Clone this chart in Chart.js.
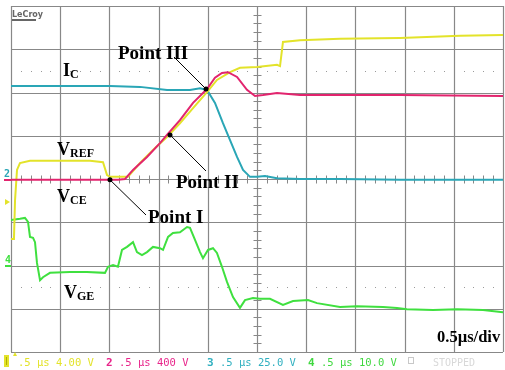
<!DOCTYPE html>
<html><head><meta charset="utf-8">
<script src="https://cdn.jsdelivr.net/npm/chart.js@4"></script>
<style>html,body{margin:0;padding:0;background:#fff;}canvas{display:block;}</style>
</head><body>
<canvas id="c" width="505" height="370"></canvas>
<script>
// time in µs (0.5 µs/div), values in screen divisions (0 = bottom, 8 = top)
const vrefTime = [0, 0.030, 0.041, 0.061, 0.091, 0.193, 0.498, 0.803, 0.935, 0.976, 1.006, 1.189, 1.311, 1.443, 1.585, 1.717, 1.850, 1.992, 2.093, 2.226, 2.327, 2.5, 2.703, 2.734, 2.764, 2.937, 3.343, 3.953, 4.563, 5.0];
const vrefDiv  = [2.61, 2.61, 3.51, 4.21, 4.37, 4.42, 4.42, 4.42, 4.39, 4.09, 4.05, 4.05, 4.37, 4.67, 4.97, 5.29, 5.64, 6.01, 6.29, 6.47, 6.57, 6.59, 6.64, 6.61, 7.17, 7.21, 7.24, 7.26, 7.31, 7.33];

const vceTime = [0, 0.498, 1.087, 1.159, 1.240, 1.382, 1.514, 1.585, 1.717, 1.850, 1.992, 2.073, 2.144, 2.205, 2.297, 2.398, 2.480, 2.561, 2.703, 2.937, 3.953, 5.0];
const vceDiv  = [3.98, 3.98, 3.98, 4.00, 4.21, 4.51, 4.83, 5.02, 5.36, 5.76, 6.08, 6.34, 6.45, 6.47, 6.36, 6.06, 5.92, 5.94, 5.99, 5.94, 5.94, 5.92];

const icTime = [0, 0.498, 1.006, 1.311, 1.585, 1.819, 1.921, 1.992, 2.073, 2.154, 2.226, 2.297, 2.358, 2.429, 2.5, 2.581, 2.703, 2.937, 3.343, 3.953, 5.0];
const icDiv  = [6.15, 6.15, 6.15, 6.13, 6.06, 6.06, 6.10, 6.06, 5.76, 5.29, 4.90, 4.51, 4.21, 4.05, 4.05, 4.07, 4.02, 4.00, 4.00, 3.98, 3.98];

const vgeTime = [0, 0.091, 0.142, 0.173, 0.193, 0.224, 0.244, 0.264, 0.295, 0.325, 0.396, 0.600, 0.772, 0.955, 0.986, 1.037, 1.087, 1.128, 1.179, 1.240, 1.280, 1.331, 1.382, 1.443, 1.514, 1.545, 1.596, 1.646, 1.717, 1.789, 1.819, 1.870, 1.921, 1.951, 2.002, 2.053, 2.093, 2.144, 2.195, 2.256, 2.327, 2.378, 2.459, 2.530, 2.632, 2.764, 2.866, 3.018, 3.110, 3.343, 3.516, 3.780, 3.923, 4.024, 4.289, 4.533, 4.797, 5.0];
const vgeDiv  = [3.05, 3.08, 3.10, 3.01, 2.66, 2.64, 2.54, 2.06, 1.66, 1.73, 1.83, 1.85, 1.85, 1.83, 1.97, 2.01, 1.97, 2.36, 2.43, 2.54, 2.31, 2.24, 2.31, 2.43, 2.40, 2.36, 2.66, 2.75, 2.77, 2.89, 2.87, 2.59, 2.31, 2.17, 2.36, 2.40, 2.29, 1.97, 1.62, 1.27, 1.02, 1.20, 1.25, 1.23, 1.23, 1.09, 1.18, 1.20, 1.13, 1.04, 1.06, 1.04, 1.02, 0.99, 0.97, 0.99, 0.97, 0.92];

const pointNames = ['Point I', 'Point II', 'Point III'];
const pointTime  = [1.006, 1.616, 1.982];
const pointDiv   = [3.98, 5.02, 6.08];

const channelNumbers = ['1', '2', '3', '4'];
const channelSettings = ['.5 µs 4.00 V', '.5 µs 400 V', '.5 µs 25.0 V', '.5 µs 10.0 V'];
const timeBase = '0.5µs/div';

const toXY = (t, v) => t.map((x, i) => ({x: x, y: v[i]}));

const COLORS = {yellow:'#e3e32a', magenta:'#e2246e', cyan:'#2aa6b6', green:'#3fe03f'};

const gridPlugin = {
  id: 'scopeGrid',
  beforeDatasetsDraw(chart) {
    const {ctx, scales: {x, y}} = chart;
    const x0 = x.getPixelForValue(0), x1 = x.getPixelForValue(5);
    const y0 = y.getPixelForValue(8), y1 = y.getPixelForValue(0);
    ctx.save();
    ctx.strokeStyle = '#888888'; ctx.lineWidth = 1.2;
    ctx.beginPath();
    for (let i = 0; i <= 10; i++) { const px = Math.round(x.getPixelForValue(i * 0.5)) + 0.5; ctx.moveTo(px, y0); ctx.lineTo(px, y1); }
    for (let j = 0; j <= 8; j++) { const py = Math.round(y.getPixelForValue(j)) + 0.5; ctx.moveTo(x0, py); ctx.lineTo(x1, py); }
    ctx.stroke();
    ctx.lineWidth = 1;
    const cx = Math.round(x.getPixelForValue(2.5)) + 0.5, cy = Math.round(y.getPixelForValue(4)) + 0.5;
    ctx.beginPath();
    for (let k = 1; k < 40; k++) { if (k % 5 === 0) continue; const py = Math.round(y.getPixelForValue(k * 0.2)) + 0.5; ctx.moveTo(cx - 4, py); ctx.lineTo(cx + 4, py); }
    for (let k = 1; k < 50; k++) { if (k % 5 === 0) continue; const px = Math.round(x.getPixelForValue(k * 0.1)) + 0.5; ctx.moveTo(px, cy - 4); ctx.lineTo(px, cy + 4); }
    ctx.stroke();
    ctx.fillStyle = '#9a9a9a';
    [1.5, 6.5].forEach(v => {
      const py = Math.round(y.getPixelForValue(v));
      for (let k = 1; k < 50; k++) { if (k % 5 === 0) continue; const px = Math.round(x.getPixelForValue(k * 0.1)); ctx.fillRect(px, py, 1, 1); }
    });
    // LeCroy logo
    ctx.fillStyle = '#666'; ctx.font = 'bold 8px "DejaVu Sans"'; ctx.textBaseline = 'alphabetic';
    ctx.fillText('LeCroy', 12, 17);
    ctx.fillRect(12, 19, 24, 2);
    ctx.restore();
  },
  afterDatasetsDraw(chart) {
    const {ctx, scales: {x, y}} = chart;
    ctx.save();
    // channel markers at left
    ctx.font = 'bold 10px "DejaVu Sans Mono"';
    ctx.fillStyle = COLORS.cyan; ctx.fillText('2', 4, 177);
    ctx.fillStyle = COLORS.magenta; ctx.fillRect(4, 179, 7, 2);
    ctx.fillStyle = COLORS.yellow;
    ctx.beginPath(); ctx.moveTo(5, 199); ctx.lineTo(10, 202); ctx.lineTo(5, 205); ctx.closePath(); ctx.fill();
    ctx.fillStyle = COLORS.green; ctx.fillText('4', 5, 263); ctx.fillRect(5, 265, 6, 2);

    // leader lines and dots
    const ends = [[146, 215], [206, 171], [174, 57]];
    ctx.strokeStyle = '#000'; ctx.fillStyle = '#000'; ctx.lineWidth = 1;
    pointNames.forEach((n, i) => {
      const px = x.getPixelForValue(pointTime[i]), py = y.getPixelForValue(pointDiv[i]);
      ctx.beginPath(); ctx.moveTo(px, py); ctx.lineTo(ends[i][0], ends[i][1]); ctx.stroke();
      ctx.beginPath(); ctx.arc(px, py, 2.5, 0, Math.PI * 2); ctx.fill();
    });
    ctx.textBaseline = 'alphabetic';
    ctx.font = 'bold 19px "Liberation Serif"';
    ctx.fillText(pointNames[0], 148, 223);
    ctx.fillText(pointNames[1], 176, 188);
    ctx.fillText(pointNames[2], 118, 59);

    const sub = (main, s, xx, yy) => {
      ctx.font = 'bold 18px "Liberation Serif"'; ctx.fillText(main, xx, yy);
      const w = ctx.measureText(main).width;
      ctx.font = 'bold 12px "Liberation Serif"'; ctx.fillText(s, xx + w, yy + 2);
    };
    sub('I', 'C', 63, 76);
    sub('V', 'REF', 57, 155);
    sub('V', 'CE', 57, 202);
    sub('V', 'GE', 64, 298);
    ctx.font = 'bold 16.5px "Liberation Serif"';
    ctx.fillText(timeBase, 437, 342);

    // bottom channel strip
    const cols = [COLORS.yellow, '#e8248a', '#30b0c0', '#40d840'];
    const numX = [4, 106, 207, 308], setX = [18, 119, 220, 321];
    for (let i = 0; i < 4; i++) {
      ctx.fillStyle = cols[i];
      ctx.font = 'bold 11px "DejaVu Sans Mono"';
      if (i === 0) {
        ctx.fillRect(4, 355, 5, 12);
        ctx.fillStyle = '#b0b000'; ctx.fillRect(6, 357, 1, 8);
        ctx.fillStyle = cols[i];
        ctx.beginPath(); ctx.moveTo(13, 356); ctx.lineTo(15, 352); ctx.lineTo(17, 356); ctx.closePath(); ctx.fill();
      } else {
        ctx.fillText(channelNumbers[i], numX[i], 366);
      }
      ctx.font = '10.5px "DejaVu Sans Mono"';
      ctx.fillText(channelSettings[i], setX[i], 366);
    }
    ctx.strokeStyle = '#c8c8c8'; ctx.strokeRect(408.5, 357.5, 5, 6);
    ctx.fillStyle = '#d8d8d8'; ctx.font = '10px "DejaVu Sans Mono"';
    ctx.fillText('STOPPED', 433, 366);
    ctx.restore();
  }
};

new Chart(document.getElementById('c'), {
  type: 'line',
  data: {
    datasets: [
      {label: 'VCE', data: toXY(vceTime, vceDiv), borderColor: COLORS.magenta},
      {label: 'VREF', data: toXY(vrefTime, vrefDiv), borderColor: COLORS.yellow},
      {label: 'IC', data: toXY(icTime, icDiv), borderColor: COLORS.cyan},
      {label: 'VGE', data: toXY(vgeTime, vgeDiv), borderColor: COLORS.green}
    ]
  },
  options: {
    responsive: false,
    devicePixelRatio: 1,
    animation: false,
    layout: {padding: {left: 11, right: 2, top: 6, bottom: 18}},
    elements: {point: {radius: 0}, line: {borderWidth: 2, tension: 0}},
    scales: {
      x: {type: 'linear', min: 0, max: 5, display: false},
      y: {type: 'linear', min: 0, max: 8, display: false}
    },
    plugins: {legend: {display: false}, tooltip: {enabled: false}}
  },
  plugins: [gridPlugin]
});
</script>
</body></html>
